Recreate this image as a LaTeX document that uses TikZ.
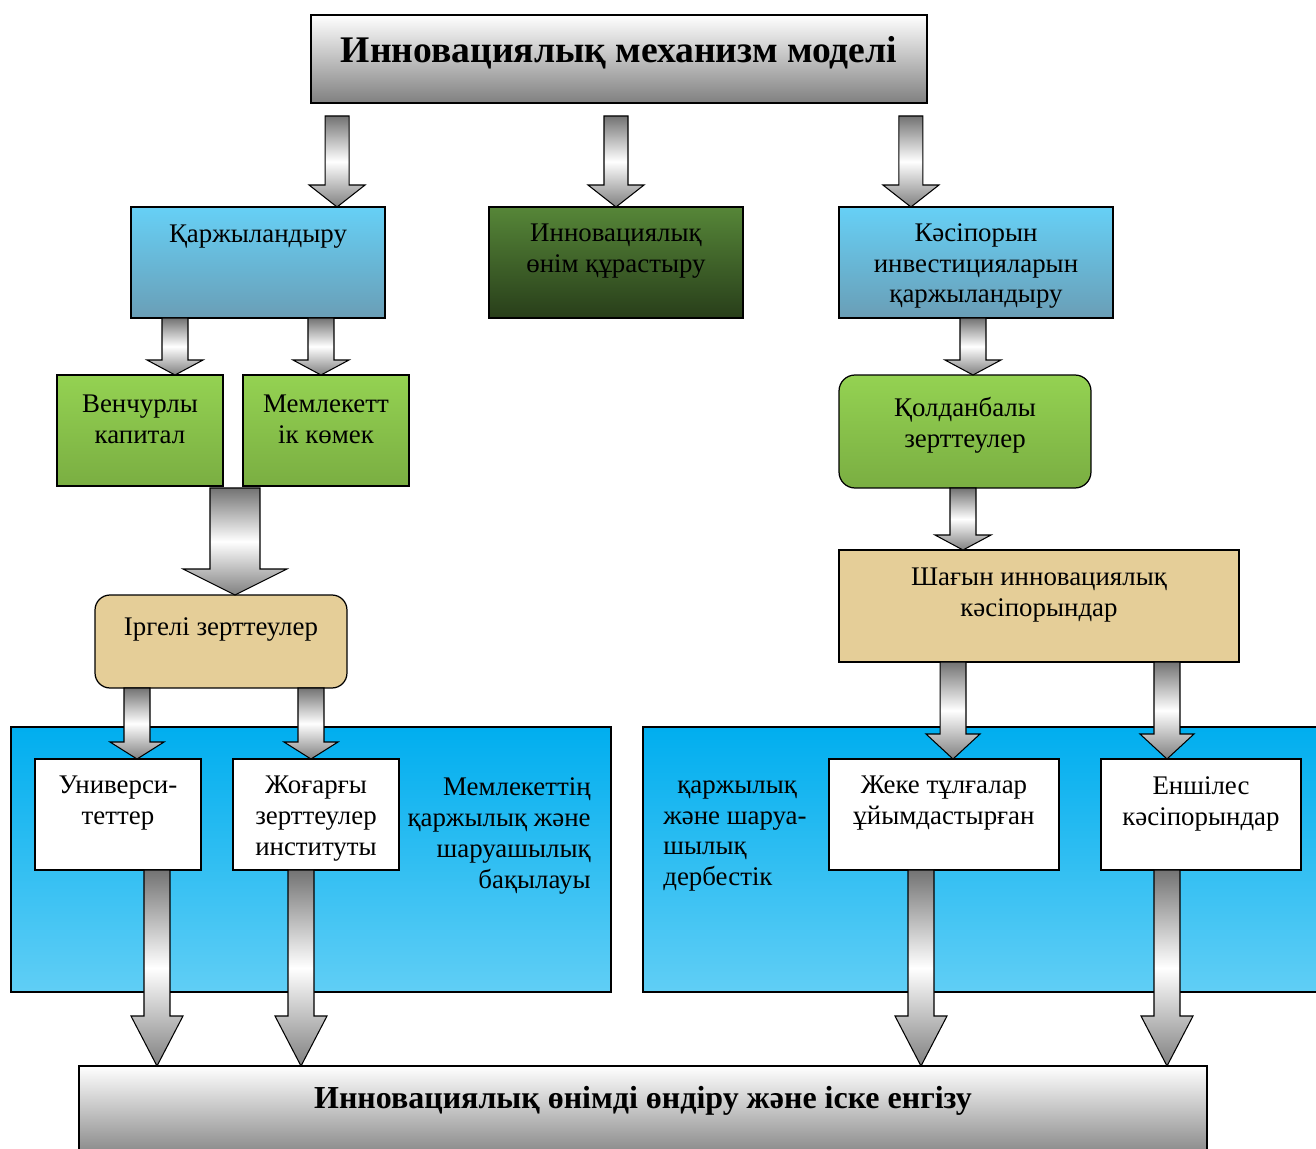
\documentclass[tikz,border=0pt]{standalone}
\usepackage{fontspec}
\setmainfont{Liberation Serif}
\usepackage{tikz}
\usetikzlibrary{calc}

\definecolor{blueTop}{RGB}{102,208,246}
\definecolor{blueBottom}{RGB}{106,158,182}
\definecolor{darkTop}{RGB}{86,134,56}
\definecolor{darkBottom}{RGB}{40,62,26}
\definecolor{greenTop}{RGB}{148,210,82}
\definecolor{greenBottom}{RGB}{122,174,66}
\definecolor{paper}{RGB}{229,206,152}
\definecolor{panelTop}{RGB}{0,174,239}
\definecolor{panelBottom}{RGB}{96,206,245}
\definecolor{steel}{RGB}{128,128,128}

% block arrow: start, end, shaft half width, head half width, head length
\newcommand{\blockArrow}[5]{%
	\path[arrowBody] let \p1 = #1, \p2 = #2 in
		(\x1-#3,\y1) -- (\x1+#3,\y1) -- (\x1+#3,\y2+#5) -- (\x1+#4,\y2+#5)
		-- (\x1,\y2) -- (\x1-#4,\y2+#5) -- (\x1-#3,\y2+#5) -- cycle;}

\begin{document}
\begin{tikzpicture}[x=0.02cm, y=-0.02cm]
\tikzstyle{boxNode} =
[
	shape			= rectangle,		% shape
	draw			= black,			% colour of the border
	line width		= 0.7pt,			% thickness of the border
	inner sep		= 0pt,				% text is set apart
	outer sep		= 0pt
]
\tikzstyle{blueBox} = [boxNode, top color = blueTop, bottom color = blueBottom, minimum height = 2.22cm]
\tikzstyle{darkBox} = [boxNode, top color = darkTop, bottom color = darkBottom, minimum height = 2.22cm]
\tikzstyle{greenBox} = [boxNode, top color = greenTop, bottom color = greenBottom]
\tikzstyle{paperBox} = [boxNode, fill = paper]
\tikzstyle{whiteBox} = [boxNode, fill = white, minimum width = 3.32cm, minimum height = 2.22cm]
\tikzstyle{greyBox} = [boxNode, top color = white, bottom color = steel]
\tikzstyle{panel} = [boxNode, top color = panelTop, bottom color = panelBottom]
\tikzstyle{txt} =
[
	align			= center,			% lines are centred
	inner sep		= 0pt,
	yshift			= -0.05cm,			% a little lower
	font			= \fontsize{15.3}{17.6}\selectfont
]
\tikzstyle{arrowBody} =
[
	draw			= black,
	line width		= 0.6pt,
	top color		= black!55,			% | shading of the arrow
	bottom color	= black!50,			% |
	middle color	= white
]
\useasboundingbox (0,0) rectangle (1316,1149);

% panels
\node (leftPanel) [panel, minimum width = 12cm, minimum height = 5.3cm] at (311,859.5) {};
\node (rightPanel) [panel, minimum width = 13.66cm, minimum height = 5.3cm] at (984.5,859.5) {};

% boxes
\node (title) [greyBox, minimum width = 12.32cm, minimum height = 1.76cm] at (619,59) {};
\node (fin) [blueBox, minimum width = 5.08cm] at (258,262.5) {};
\node (prod) [darkBox, minimum width = 5.08cm] at (616,262.5) {};
\node (inv) [blueBox, minimum width = 5.48cm] at (976,262.5) {};
\node (venture) [greenBox, minimum width = 3.32cm, minimum height = 2.22cm] at (140,430.5) {};
\node (state) [greenBox, minimum width = 3.32cm, minimum height = 2.22cm] at (326,430.5) {};
\node (applied) [greenBox, rounded corners = 0.32cm, minimum width = 5.04cm, minimum height = 2.26cm] at (965,431.5) {};
\node (basic) [paperBox, rounded corners = 0.3cm, minimum width = 5.04cm, minimum height = 1.86cm] at (221,641.5) {};
\node (small) [paperBox, minimum width = 8cm, minimum height = 2.24cm] at (1039,606) {};
\node (univ) [whiteBox] at (118,814.5) {};
\node (inst) [whiteBox] at (316,814.5) {};
\node (private) [whiteBox, minimum width = 4.6cm] at (944,814.5) {};
\node (subs) [whiteBox, minimum width = 4cm] at (1201,814.5) {};
\node (final) [greyBox, minimum width = 22.56cm, minimum height = 1.88cm] at (643,1113) {};

% texts
\node (titleT) [txt, font = \fontsize{21.4}{24}\selectfont\bfseries] at (619,50) {Инновациялық механизм моделі};
\node (finT) [txt] at (258,234) {Қаржыландыру};
\node (prodT) [txt] at (616,248.5) {Инновациялық\\өнім құрастыру};
\node (invT) [txt] at (976,263.5) {Кәсіпорын\\инвестицияларын\\қаржыландыру};
\node (ventureT) [txt] at (140,416.5) {Венчурлы\\капитал};
\node (stateT) [txt] at (326,416.5) {Мемлекетт\\ік көмек};
\node (appliedT) [txt] at (965,422.5) {Қолданбалы\\зерттеулер};
\node (basicT) [txt] at (221,627) {Іргелі зерттеулер};
\node (smallT) [txt] at (1039,592.5) {Шағын инновациялық\\кәсіпорындар};
\node (univT) [txt] at (118,801) {Универси-\\теттер};
\node (instT) [txt] at (316,816.5) {Жоғарғы\\зерттеулер\\институты};
\node (privateT) [txt] at (944,801) {Жеке тұлғалар\\ұйымдастырған};
\node (subsT) [txt] at (1201,801) {Еншілес\\кәсіпорындар};
\node (controlT) [txt, align = right, anchor = east] at (591,833.5) {Мемлекеттің\\қаржылық және\\шаруашылық\\бақылауы};
\node (freeT) [txt, align = left, anchor = west] at (663,833.5) {\hspace*{0.28cm}қаржылық\\және шаруа-\\шылық\\дербестік};
\node (finalT) [txt, font = \fontsize{18.2}{21}\selectfont\bfseries] at (643,1098) {Инновациялық өнімді өндіру және іске енгізу};

% arrows
\blockArrow{([xshift=-5.64cm,yshift=-0.26cm]title.south)}{(fin.north)}{0.24cm}{0.56cm}{0.44cm}
\blockArrow{([yshift=-0.26cm]title.south -| prod.north)}{(prod.north)}{0.24cm}{0.56cm}{0.44cm}
\blockArrow{([xshift=5.84cm,yshift=-0.26cm]title.south)}{(inv.north)}{0.24cm}{0.56cm}{0.44cm}
\blockArrow{([xshift=-1.66cm]fin.south)}{(venture.north)}{0.26cm}{0.56cm}{0.3cm}
\blockArrow{([xshift=1.26cm]fin.south)}{(state.north)}{0.26cm}{0.56cm}{0.3cm}
\blockArrow{([xshift=-0.06cm]inv.south)}{(applied.north)}{0.26cm}{0.56cm}{0.3cm}
\blockArrow{([xshift=-0.04cm]applied.south)}{(small.north)}{0.26cm}{0.56cm}{0.3cm}
\blockArrow{([xshift=0.24cm,yshift=-0.04cm]venture.south east)}{(basic.north)}{0.5cm}{1.04cm}{0.52cm}
\blockArrow{([xshift=-1.68cm]basic.south)}{(univ.north)}{0.26cm}{0.54cm}{0.34cm}
\blockArrow{([xshift=1.8cm]basic.south)}{(inst.north)}{0.26cm}{0.54cm}{0.34cm}
\blockArrow{([xshift=-1.72cm]small.south)}{(private.north)}{0.26cm}{0.54cm}{0.5cm}
\blockArrow{([xshift=2.56cm]small.south)}{(subs.north)}{0.26cm}{0.54cm}{0.5cm}
\blockArrow{([xshift=0.78cm]univ.south)}{(final.north)}{0.26cm}{0.52cm}{1cm}
\blockArrow{([xshift=-0.3cm]inst.south)}{(final.north)}{0.26cm}{0.52cm}{1cm}
\blockArrow{([xshift=-0.46cm]private.south)}{(final.north)}{0.26cm}{0.52cm}{1cm}
\blockArrow{([xshift=-0.68cm]subs.south)}{(final.north)}{0.26cm}{0.52cm}{1cm}
\end{tikzpicture}
\end{document}
